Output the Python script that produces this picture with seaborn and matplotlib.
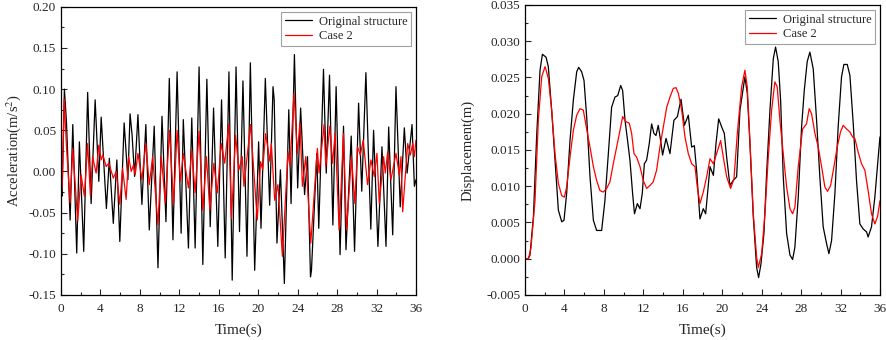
import numpy as np
import pandas as pd
import seaborn as sns
import matplotlib.pyplot as plt
from matplotlib.ticker import MultipleLocator

# acceleration, original structure (peaks/troughs)
acc_orig_t = [0, 0.1, 0.34, 0.55, 0.92, 1.19, 1.59, 1.86, 2.3, 2.7, 3.05, 3.46, 3.83, 4.07,
              4.6, 4.9, 5.3, 5.66, 5.96, 6.4, 6.78, 7.0, 7.2, 7.46, 7.8, 8.2, 8.6, 8.95, 9.45,
              9.83, 10.24, 10.64, 10.98, 11.35, 11.77, 12.18, 12.4, 12.92, 13.26, 13.6, 14.0,
              14.38, 14.79, 15.13, 15.47, 15.9, 16.28, 16.65, 17.03, 17.36, 17.75, 18.1, 18.45,
              18.86, 19.2, 19.64, 20.04, 20.28, 20.72, 21.16, 21.5, 21.62, 21.9, 22.25, 22.65,
              23.1, 23.33, 23.67, 24.0, 24.3, 24.7, 25.0, 25.3, 25.4, 25.94, 26.14, 26.62, 26.9,
              27.23, 27.57, 27.9, 28.3, 28.65, 28.9, 29.43, 29.77, 30.18, 30.5, 30.92, 31.15,
              31.42, 31.7, 32.14, 32.55, 32.96, 33.23, 33.64, 33.97, 34.4, 34.82, 35.1, 35.6,
              35.84, 36.0]
acc_orig_v = [-0.02, -0.03, 0.10, 0.06, -0.059, 0.057, -0.099, 0.036, -0.097, 0.096, -0.039,
              0.087, -0.012, 0.066, -0.045, 0.016, -0.063, 0.014, -0.085, 0.059, -0.01, 0.07,
              0.045, -0.006, 0.069, -0.04, 0.057, -0.071, 0.055, -0.117, 0.067, -0.061, 0.113,
              -0.083, 0.121, -0.075, 0.063, -0.093, 0.065, -0.093, 0.127, -0.113, 0.112, -0.067,
              0.077, -0.091, 0.087, -0.105, 0.121, -0.132, 0.127, -0.073, 0.11, -0.103, 0.132,
              -0.12, 0.036, -0.069, 0.113, -0.041, 0.103, 0.087, -0.087, 0.002, -0.136, 0.075,
              -0.039, 0.142, -0.02, 0.077, -0.028, 0.018, -0.128, -0.12, 0.022, -0.069, 0.124,
              -0.002, 0.117, -0.065, 0.103, -0.101, 0.055, -0.095, 0.043, -0.097, 0.083, -0.024,
              0.12, 0.03, -0.07, 0.05, -0.091, 0.03, -0.091, 0.054, -0.077, 0.103, -0.043, 0.053,
              -0.002, 0.057, -0.018, -0.01]

# acceleration, case 2
acc_case_t = [0, 0.12, 0.32, 0.55, 0.92, 1.19, 1.69, 2.03, 2.37, 2.7, 2.98, 3.2, 3.56, 3.83,
              4.07, 4.24, 4.58, 4.85, 5.3, 5.6, 5.96, 6.24, 6.6, 6.85, 7.12, 7.35, 7.52, 7.8,
              8.2, 8.6, 8.95, 9.29, 9.83, 10.17, 10.57, 11.0, 11.42, 11.77, 12.1, 12.4, 12.92,
              13.26, 13.6, 14.0, 14.38, 14.75, 15.09, 15.5, 15.85, 16.25, 16.6, 17.0, 17.29,
              17.7, 18.04, 18.38, 18.55, 19.22, 19.9, 20.24, 20.45, 20.75, 21.19, 21.33, 21.67,
              22.0, 22.45, 23.02, 23.22, 23.63, 23.97, 24.24, 24.48, 24.82, 25.33, 26.0, 26.17,
              26.68, 26.85, 27.26, 27.53, 27.8, 28.21, 28.65, 28.95, 29.46, 29.8, 30.07, 30.35,
              30.65, 31.09, 31.43, 31.77, 32.04, 32.28, 32.72, 32.89, 33.13, 33.46, 33.97, 34.31,
              34.48, 34.65, 35.16, 35.43, 35.67, 35.83, 36.0]
acc_case_v = [-0.005, -0.02, 0.088, 0.03, -0.038, 0.028, -0.06, -0.004, -0.03, 0.034, -0.03,
              0.018, -0.002, 0.032, 0.014, 0.02, 0.006, 0.01, -0.008, 0.0, -0.04, 0.004, -0.034,
              0.018, 0.0, 0.008, -0.004, 0.022, -0.01, 0.034, -0.016, 0.018, -0.065, 0.018,
              -0.038, 0.05, -0.04, 0.05, -0.012, 0.022, -0.02, 0.026, -0.026, 0.049, -0.047,
              0.018, -0.047, 0.01, -0.026, 0.034, 0.01, 0.057, -0.057, 0.044, 0.002, 0.018,
              -0.018, 0.057, -0.059, 0.012, 0.002, 0.046, 0.012, 0.034, -0.035, -0.016, -0.103,
              0.024, 0.006, 0.095, 0.022, 0.06, -0.018, 0.018, -0.087, 0.028, -0.002, 0.057,
              0.006, 0.055, 0.01, 0.046, -0.071, 0.046, -0.071, 0.018, -0.039, 0.03, 0.02, 0.038,
              -0.016, 0.014, -0.006, 0.022, -0.039, 0.018, -0.002, 0.024, -0.01, 0.022, -0.004,
              0.018, -0.049, 0.034, 0.02, 0.034, 0.018, 0.038]

# displacement, original structure
dis_orig_t = [0, 0.3, 0.5, 0.85, 1.18, 1.52, 1.76, 2.13, 2.36, 2.7, 3.04, 3.38, 3.72, 3.95,
              4.22, 4.56, 4.9, 5.24, 5.44, 5.74, 5.98, 6.25, 6.59, 6.93, 7.26, 7.77, 8.1, 8.45,
              8.78, 9.12, 9.4, 9.7, 9.9, 10.14, 10.4, 10.64, 10.91, 11.1, 11.39, 11.66, 11.89,
              12.1, 12.33, 12.6, 12.84, 13.07, 13.28, 13.51, 13.75, 13.95, 14.3, 14.7, 15.1,
              15.45, 15.82, 16.16, 16.56, 16.9, 17.17, 17.4, 17.74, 18.08, 18.32, 18.76, 19.1,
              19.37, 19.64, 19.94, 20.21, 20.45, 20.78, 21.12, 21.46, 21.8, 22.3, 22.54, 22.81,
              23.15, 23.49, 23.69, 23.93, 24.23, 24.5, 24.84, 25.18, 25.41, 25.68, 25.92, 26.19,
              26.53, 26.87, 27.14, 27.37, 27.71, 28.05, 28.32, 28.62, 28.89, 29.23, 29.57, 29.9,
              30.24, 30.58, 30.82, 31.09, 31.43, 31.76, 32.1, 32.34, 32.68, 32.95, 33.29, 33.62,
              33.96, 34.3, 34.64, 34.8, 35.14, 35.48, 35.82, 36.0]
dis_orig_v = [0, 0, 0.0005, 0.0058, 0.017, 0.026, 0.0282, 0.0278, 0.0265, 0.0205, 0.0136,
              0.0067, 0.0051, 0.0053, 0.009, 0.0163, 0.0219, 0.0258, 0.0264, 0.0258, 0.0246,
              0.0196, 0.0113, 0.0053, 0.0039, 0.0039, 0.008, 0.0145, 0.0209, 0.0223, 0.0225,
              0.0239, 0.0232, 0.0191, 0.0163, 0.0136, 0.009, 0.0062, 0.0076, 0.0069, 0.009,
              0.0131, 0.0136, 0.0159, 0.0186, 0.0173, 0.017, 0.0184, 0.0163, 0.0143, 0.0166,
              0.0145, 0.0191, 0.0196, 0.022, 0.0184, 0.0198, 0.0154, 0.0156, 0.0122, 0.0055,
              0.0069, 0.0062, 0.0127, 0.0115, 0.0159, 0.0193, 0.0182, 0.0173, 0.014, 0.0101,
              0.0108, 0.0113, 0.0205, 0.0251, 0.0228, 0.0159, 0.0058, -0.0012, -0.0026, -0.0007,
              0.0035, 0.0117, 0.0205, 0.0276, 0.0292, 0.0272, 0.0219, 0.0113, 0.0035, 0.0005,
              -0.0001, 0.0016, 0.0085, 0.0182, 0.0232, 0.0272, 0.0285, 0.0262, 0.0191, 0.0113,
              0.0044, 0.0021, 0.0007, 0.0025, 0.009, 0.0182, 0.0251, 0.0268, 0.0268, 0.0253,
              0.0186, 0.0108, 0.0048, 0.0041, 0.0037, 0.003, 0.0044, 0.0085, 0.014, 0.0168]

# displacement, case 2
dis_case_t = [0, 0.35, 0.6, 1.01, 1.35, 1.69, 2.03, 2.36, 2.7, 3.04, 3.38, 3.72, 3.99, 4.22,
              4.56, 4.9, 5.24, 5.57, 5.91, 6.25, 6.59, 6.93, 7.26, 7.6, 7.94, 8.28, 8.61, 8.95,
              9.29, 9.63, 9.9, 10.24, 10.57, 10.81, 11.05, 11.32, 11.66, 11.99, 12.33, 12.67,
              13.0, 13.34, 13.68, 14.03, 14.37, 14.7, 15.04, 15.31, 15.55, 15.89, 16.22, 16.56,
              16.9, 17.24, 17.47, 17.74, 18.08, 18.42, 18.76, 19.1, 19.43, 19.84, 20.11, 20.45,
              20.85, 21.19, 21.53, 21.97, 22.3, 22.54, 22.81, 23.15, 23.49, 23.66, 24.0, 24.33,
              24.67, 25.01, 25.34, 25.58, 25.85, 26.19, 26.53, 26.87, 27.14, 27.37, 27.71, 28.15,
              28.55, 28.82, 29.06, 29.4, 29.74, 30.08, 30.41, 30.68, 30.99, 31.33, 31.66, 32.0,
              32.27, 32.61, 32.95, 33.22, 33.45, 33.79, 34.13, 34.47, 34.8, 35.14, 35.48, 35.75,
              36.0]
dis_case_v = [0, 0, 0.0015, 0.008, 0.0191, 0.0251, 0.0265, 0.0249, 0.0205, 0.0145, 0.0104,
              0.0087, 0.0085, 0.0099, 0.014, 0.0177, 0.0198, 0.0207, 0.0205, 0.0179, 0.0154,
              0.0127, 0.0108, 0.0094, 0.0092, 0.0097, 0.0106, 0.0131, 0.0154, 0.0177, 0.0196,
              0.0189, 0.0187, 0.0173, 0.0145, 0.014, 0.0127, 0.0108, 0.0097, 0.0101, 0.0106,
              0.0122, 0.0154, 0.0182, 0.0209, 0.0223, 0.0235, 0.0236, 0.0228, 0.0205, 0.0168,
              0.0145, 0.0131, 0.0127, 0.0099, 0.0076, 0.0092, 0.0113, 0.0138, 0.0131, 0.0145,
              0.0163, 0.014, 0.0113, 0.0097, 0.011, 0.0173, 0.0237, 0.026, 0.0237, 0.0163,
              0.0062, 0.0002, -0.0012, 0.0007, 0.0062, 0.014, 0.0205, 0.0244, 0.0237, 0.0191,
              0.0145, 0.0099, 0.0069, 0.0062, 0.0071, 0.0127, 0.0179, 0.0186, 0.0207, 0.02,
              0.0173, 0.0154, 0.0127, 0.0099, 0.0093, 0.0101, 0.0127, 0.0154, 0.0175, 0.0184,
              0.0179, 0.0175, 0.0168, 0.0166, 0.0147, 0.0131, 0.0122, 0.0094, 0.0062, 0.0048,
              0.0058, 0.008]

acc = pd.concat([
    pd.DataFrame({"t": acc_orig_t, "v": acc_orig_v, "s": "Original structure"}),
    pd.DataFrame({"t": acc_case_t, "v": acc_case_v, "s": "Case 2"}),
])
dis = pd.concat([
    pd.DataFrame({"t": dis_orig_t, "v": dis_orig_v, "s": "Original structure"}),
    pd.DataFrame({"t": dis_case_t, "v": dis_case_v, "s": "Case 2"}),
])

sns.set_style("white")
plt.rcParams['font.family'] = ['Liberation Serif', 'DejaVu Serif']
plt.rcParams['mathtext.fontset'] = 'stix'

pal = {"Original structure": "black", "Case 2": "red"}

fig = plt.figure(figsize=(8.86, 3.4), dpi=100)
ax1 = fig.add_axes([0.0689, 0.1324, 0.4006, 0.8476])
ax2 = fig.add_axes([0.5926, 0.1324, 0.4006, 0.8529])

sns.lineplot(data=acc, x="t", y="v", hue="s", palette=pal, estimator=None, sort=False,
             linewidth=0.9, ax=ax1)
sns.lineplot(data=dis, x="t", y="v", hue="s", palette=pal, estimator=None, sort=False,
             linewidth=0.9, ax=ax2)

ax1.set_xlim(0, 36)
ax1.set_ylim(-0.15, 0.20)
ax1.yaxis.set_major_locator(MultipleLocator(0.05))
ax1.yaxis.set_minor_locator(MultipleLocator(0.025))
ax1.set_yticklabels([f"{v:.2f}" for v in ax1.get_yticks()])
ax1.set_ylabel("Acceleration(m/s$^2$)", fontsize=10.5)

ax2.set_xlim(0, 36)
ax2.set_ylim(-0.005, 0.035)
ax2.yaxis.set_major_locator(MultipleLocator(0.005))
ax2.yaxis.set_minor_locator(MultipleLocator(0.0025))
ax2.set_yticklabels([f"{v:.3f}" for v in ax2.get_yticks()])
ax2.set_ylabel("Displacement(m)", fontsize=10.5, labelpad=8)

for ax in (ax1, ax2):
    ax.xaxis.set_major_locator(MultipleLocator(4))
    ax.xaxis.set_minor_locator(MultipleLocator(2))
    ax.set_xlabel("Time(s)", fontsize=11, labelpad=6)
    ax.tick_params(which="both", direction="in", labelsize=9.5, bottom=True, left=True,
                   top=False, right=False)
    ax.tick_params(axis="x", which="major", pad=6)
    ax.tick_params(which="major", length=4, width=0.8)
    ax.tick_params(which="minor", length=2.5, width=0.8)
    for sp in ax.spines.values():
        sp.set_color("black")
        sp.set_linewidth(0.9)
    leg = ax.legend(loc="upper right", fontsize=9, frameon=True, fancybox=False,
                    edgecolor="#888888", handlelength=2.2, borderpad=0.3,
                    labelspacing=0.2, handletextpad=0.5, borderaxespad=0.4)
    leg.get_frame().set_linewidth(0.8)

fig.savefig("out.png", dpi=100)
